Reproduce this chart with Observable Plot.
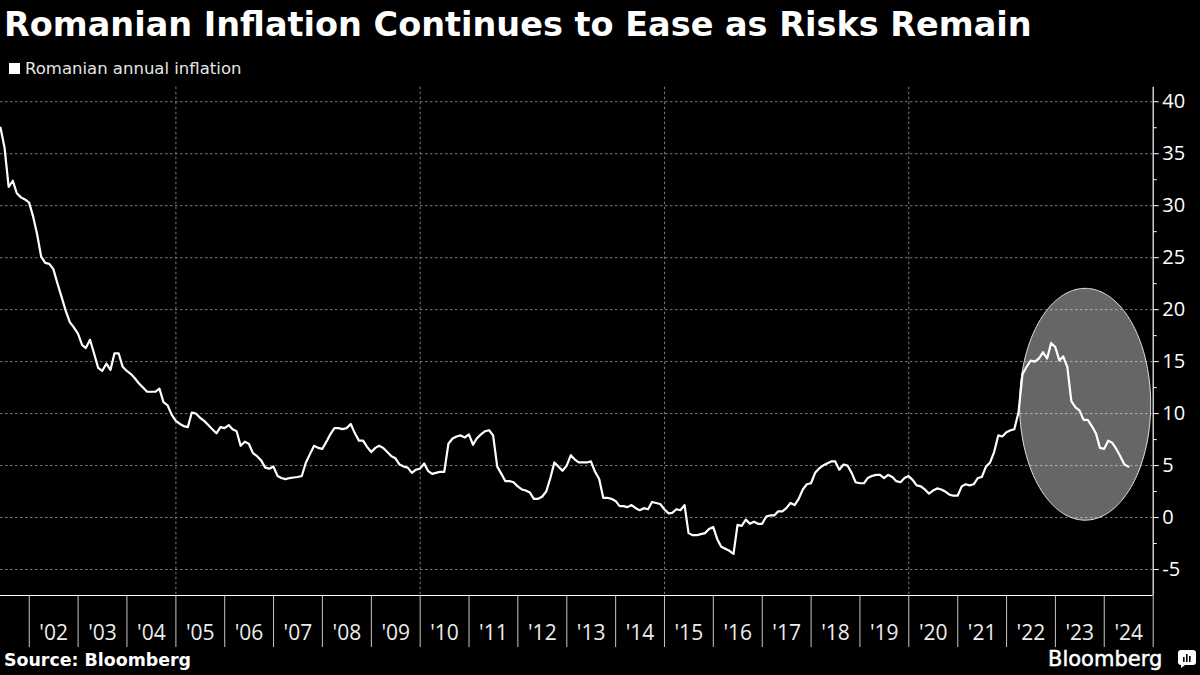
<!DOCTYPE html>
<html><head><meta charset="utf-8">
<script src="https://cdn.jsdelivr.net/npm/d3@7"></script>
<script src="https://cdn.jsdelivr.net/npm/@observablehq/plot@0.6"></script>
<style>
html,body{margin:0;padding:0;background:#000;}
#wrap{position:relative;width:1200px;height:675px;overflow:hidden;background:#000;font-family:"Open Sans",sans-serif;color:#fff;}
#title{position:absolute;left:4px;top:8.4px;font-family:"DejaVu Sans",sans-serif;font-size:33.5px;font-weight:700;line-height:1;white-space:nowrap;}
#legend{position:absolute;left:9px;top:61.3px;font-family:"DejaVu Sans",sans-serif;font-size:16.5px;line-height:1;color:#e6e6e6;white-space:nowrap;}
#legend .sw{display:inline-block;width:11px;height:11px;background:#fff;margin-right:5px;vertical-align:0px;}
#chart{position:absolute;left:0;top:80px;}
#source{position:absolute;left:4px;top:652.3px;font-family:"DejaVu Sans",sans-serif;font-size:17.4px;font-weight:700;line-height:1;white-space:nowrap;}
#brand{position:absolute;left:1048px;top:649px;font-family:"DejaVu Sans",sans-serif;font-size:21px;line-height:1;white-space:nowrap;-webkit-text-stroke:0.5px #fff;}
#icon{position:absolute;left:1178px;top:650px;}
</style></head>
<body><div id="wrap">
<div id="title">Romanian Inflation Continues to Ease as Risks Remain</div>
<div id="legend"><span class="sw"></span>Romanian annual inflation</div>
<div id="chart"></div>
<div id="source">Source: Bloomberg</div>
<div id="brand">Bloomberg</div>
<svg id="icon" width="18" height="18" viewBox="0 0 18 18"><rect x="0" y="0" width="18" height="15" rx="3" fill="#fff"/><path d="M3 15 L3 18 L7 15 Z" fill="#fff"/><rect x="5" y="7" width="1.6" height="5" fill="#000"/><rect x="8" y="4" width="1.6" height="8" fill="#000"/><rect x="11" y="6" width="1.6" height="6" fill="#000"/></svg>
</div>
<script>
// Romanian annual CPI inflation, %, monthly from May 2001 to June 2024
const startYear = 2001, startMonth = 5; // May 2001
const inflation = [
  37.5, 35.6, 31.8, 32.4, 31.2, 30.8, 30.6, 30.3,                  // 2001 May-Dec
  28.9, 27.3, 25.1, 24.5, 24.4, 23.9, 22.5, 21.2, 19.9, 18.8, 18.3, 17.7, // 2002
  16.6, 16.3, 17.1, 15.8, 14.4, 14.1, 14.8, 14.2, 15.8, 15.8, 14.5, 14.1, // 2003
  13.8, 13.4, 12.9, 12.5, 12.1, 12.1, 12.1, 12.4, 11.1, 10.8, 9.9, 9.3,   // 2004
  9.0, 8.8, 8.7, 10.1, 10.0, 9.6, 9.3, 8.9, 8.5, 8.1, 8.7, 8.6,           // 2005
  8.9, 8.5, 8.3, 6.9, 7.3, 7.1, 6.2, 5.9, 5.5, 4.8, 4.7, 4.9,             // 2006
  4.0, 3.8, 3.7, 3.8, 3.85, 3.9, 4.0, 5.3, 6.1, 6.9, 6.7, 6.6,            // 2007
  7.3, 8.0, 8.6, 8.6, 8.5, 8.6, 9.0, 8.1, 7.4, 7.4, 6.8, 6.3,             // 2008
  6.7, 6.9, 6.7, 6.3, 5.9, 5.7, 5.1, 4.9, 4.8, 4.3, 4.6, 4.7,             // 2009
  5.2, 4.5, 4.2, 4.3, 4.4, 4.4, 7.1, 7.6, 7.8, 7.9, 7.7, 8.0,             // 2010
  7.0, 7.6, 8.0, 8.3, 8.4, 7.9, 4.9, 4.2, 3.5, 3.5, 3.4, 3.0,             // 2011
  2.7, 2.6, 2.4, 1.8, 1.8, 2.0, 2.5, 3.8, 5.3, 4.9, 4.5, 5.0,             // 2012
  6.0, 5.6, 5.3, 5.3, 5.3, 5.4, 4.4, 3.7, 1.9, 1.9, 1.8, 1.6,             // 2013
  1.1, 1.1, 1.0, 1.2, 0.9, 0.7, 0.9, 0.8, 1.5, 1.4, 1.3, 0.8,             // 2014
  0.4, 0.45, 0.8, 0.7, 1.2, -1.5, -1.7, -1.7, -1.6, -1.5, -1.1, -0.9,     // 2015
  -2.1, -2.8, -3.0, -3.2, -3.5, -0.7, -0.8, -0.2, -0.6, -0.4, -0.6, -0.6, // 2016
  0.1, 0.2, 0.2, 0.6, 0.6, 0.9, 1.4, 1.2, 1.8, 2.7, 3.2, 3.3,             // 2017
  4.3, 4.7, 5.0, 5.2, 5.4, 5.4, 4.6, 5.1, 5.0, 4.3, 3.4, 3.3,             // 2018
  3.3, 3.8, 4.0, 4.1, 4.1, 3.8, 4.1, 3.9, 3.5, 3.4, 3.8, 4.0,             // 2019
  3.6, 3.1, 3.0, 2.7, 2.3, 2.6, 2.8, 2.7, 2.5, 2.2, 2.1, 2.1,             // 2020
  3.0, 3.2, 3.1, 3.2, 3.8, 3.9, 4.9, 5.3, 6.3, 7.9, 7.8, 8.2,             // 2021
  8.4, 8.5, 10.1, 13.8, 14.5, 15.1, 15.0, 15.3, 15.9, 15.3, 16.8, 16.4,   // 2022
  15.1, 15.5, 14.5, 11.2, 10.6, 10.3, 9.4, 9.4, 8.8, 8.1, 6.7, 6.6,       // 2023
  7.4, 7.2, 6.6, 5.9, 5.1, 4.9                                            // 2024 Jan-Jun
];
const yTicks = [-5, 0, 5, 10, 15, 20, 25, 30, 35, 40];
const yMinor = [-2.5, 2.5, 7.5, 12.5, 17.5, 22.5, 27.5, 32.5, 37.5];
const yDomain = [-7.5, 41.4];
const yearLabels = ["'02","'03","'04","'05","'06","'07","'08","'09","'10","'11","'12","'13","'14","'15","'16","'17","'18","'19","'20","'21","'22","'23","'24"];
const firstLabelYear = 2002;
const gridYears = [2005, 2010, 2015, 2020];
const axisEndYear = 2025;
// highlighted region (ellipse) in data units
const highlight = {start: "2022-04-12", end: "2024-12-17", low: -0.3, high: 22.0};

// build table: value at end of each month
const series = inflation.map((v, i) => ({date: new Date(Date.UTC(startYear, startMonth + i, 0)), value: v}));
const xEnd = new Date(Date.UTC(axisEndYear, 0, 1));
const yearStarts = d3.range(firstLabelYear, axisEndYear + 1).map(y => new Date(Date.UTC(y, 0, 1)));
const yearMids = yearLabels.map((_, i) => new Date(Date.UTC(firstLabelYear + i, 6, 2)));
const gridDates = gridYears.map(y => new Date(Date.UTC(y, 0, 1)));

// ellipse outline in data space
const hx0 = +new Date(highlight.start), hx1 = +new Date(highlight.end);
const hcx = (hx0 + hx1) / 2, hrx = (hx1 - hx0) / 2;
const hcy = (highlight.low + highlight.high) / 2, hry = (highlight.high - highlight.low) / 2;
const ellipse = d3.range(0, 181).map(k => {
  const t = Math.PI - k * Math.PI / 180;
  return {x: new Date(hcx + hrx * Math.cos(t)), y1: hcy - hry * Math.sin(t), y2: hcy + hry * Math.sin(t)};
});

const chart = Plot.plot({
  width: 1200, height: 570,
  marginTop: 6.7, marginBottom: 55, marginLeft: 0, marginRight: 47.3,
  style: {background: "transparent", color: "#fff", fontFamily: "'Open Sans', sans-serif", overflow: "visible"},
  x: {type: "utc", domain: [series[0].date, xEnd], label: null},
  y: {domain: yDomain, label: null},
  marks: [
    Plot.ruleY(yTicks, {stroke: "#7d7d7d", strokeDasharray: "2.5,2.5", strokeWidth: 1}),
    Plot.ruleX(gridDates, {stroke: "#7d7d7d", strokeDasharray: "2.5,2.5", strokeWidth: 1}),
    Plot.areaY(ellipse, {x: "x", y1: "y1", y2: "y2", fill: "#fff", fillOpacity: 0.4, stroke: "#e8e8e8", strokeWidth: 1, curve: "linear"}),
    Plot.line(series, {x: "date", y: "value", stroke: "#fff", strokeWidth: 2.2, strokeLinejoin: "round"}),
    Plot.ruleY([yDomain[0]], {stroke: "#fff", strokeWidth: 1.2}),
    Plot.ruleX([xEnd], {stroke: "#fff", strokeWidth: 1.2}),
    Plot.axisX({ticks: yearStarts, tickSize: 52, tickFormat: () => "", stroke: "#c8c8c8", label: null}),
    Plot.axisX({ticks: yearMids, tickSize: 0, tickPadding: 29.5, fontSize: 21, fill: "#ececec", label: null,
      tickFormat: d => yearLabels[d.getUTCFullYear() - firstLabelYear]}),
    Plot.axisY({ticks: yTicks, anchor: "right", tickSize: 5, tickPadding: 4, fontSize: 20, fill: "#fff", label: null, tickFormat: d => String(d)}),
    Plot.axisY({ticks: yMinor, anchor: "right", tickSize: 3, tickFormat: () => "", label: null})
  ]
});
document.getElementById("chart").appendChild(chart);
</script>
</body></html>
